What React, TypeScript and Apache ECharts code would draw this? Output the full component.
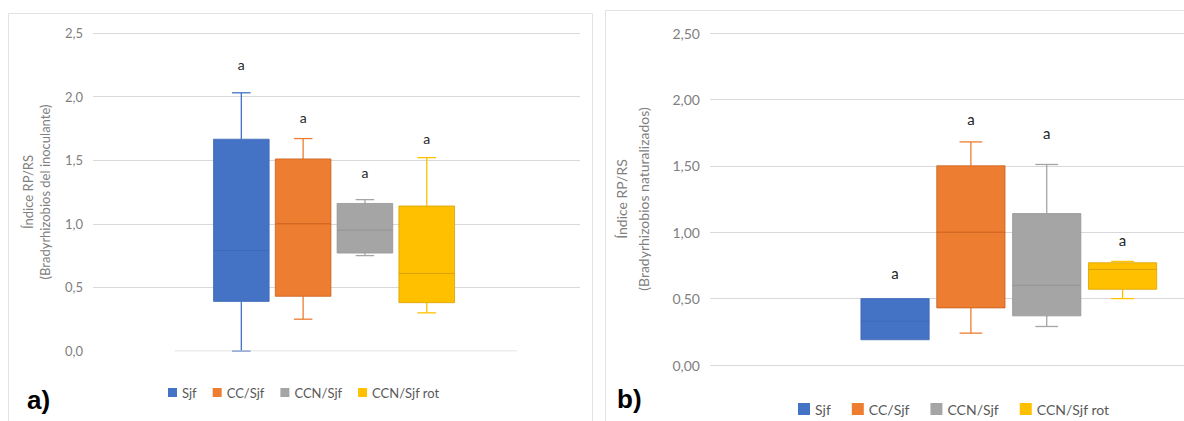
import React, { useEffect, useRef } from "react";
import * as echarts from "echarts";

// ---- data ----
const groups = ["Sjf", "CC/Sjf", "CCN/Sjf", "CCN/Sjf rot"];
const groupPos = [1, 2, 3, 4];
const colors = ["#4472C4", "#ED7D31", "#A5A5A5", "#FFC000"];
const medianColors = ["#4069b8", "#c9621e", "#949494", "#d9a100"];

// panel a) [min, Q1, median, Q3, max]
const boxA = [
  [0.0, 0.39, 0.79, 1.665, 2.03],
  [0.25, 0.43, 1.0, 1.51, 1.67],
  [0.75, 0.77, 0.95, 1.16, 1.19],
  [0.3, 0.38, 0.61, 1.14, 1.52],
];
const lettersA = ["a", "a", "a", "a"];
const letterYA = [2.25, 1.835, 1.4, 1.667];

// panel b)
const boxB = [
  [0.19, 0.19, 0.33, 0.5, 0.5],
  [0.24, 0.43, 1.0, 1.5, 1.68],
  [0.29, 0.37, 0.6, 1.14, 1.51],
  [0.5, 0.57, 0.72, 0.77, 0.78],
];
const lettersB = ["a", "a", "a", "a"];
const letterYB = [0.69, 1.855, 1.75, 0.94];

const yMin = 0;
const yMax = 2.5;
const yStep = 0.5;

const FONT = "Lato, 'Open Sans', sans-serif";

function makeRender(idx: number, letters: string[], boxFrac: number, capFrac: number, letterSize: number) {
  return (params: any, api: any) => {
    const x = api.value(0);
    const mn = api.value(1);
    const q1 = api.value(2);
    const md = api.value(3);
    const q3 = api.value(4);
    const mx = api.value(5);
    const ly = api.value(6);
    const c = (v: number) => api.coord([x, v]);
    const pMin = c(mn), pQ1 = c(q1), pMd = c(md), pQ3 = c(q3), pMax = c(mx), pL = c(ly);
    const half = api.size([boxFrac, 0])[0] / 2;
    const cap = api.size([capFrac, 0])[0] / 2;
    const cx = pMd[0];
    const col = colors[idx];
    const ws = { stroke: col, lineWidth: 1.3 };
    const children: any[] = [];
    if (pMax[1] < pQ3[1] - 0.5) {
      children.push({ type: "line", shape: { x1: cx, y1: pMax[1], x2: cx, y2: pQ3[1] }, style: ws });
      children.push({ type: "line", shape: { x1: cx - cap, y1: pMax[1], x2: cx + cap, y2: pMax[1] }, style: ws });
    }
    if (pMin[1] > pQ1[1] + 0.5) {
      children.push({ type: "line", shape: { x1: cx, y1: pQ1[1], x2: cx, y2: pMin[1] }, style: ws });
      children.push({ type: "line", shape: { x1: cx - cap, y1: pMin[1], x2: cx + cap, y2: pMin[1] }, style: ws });
    }
    children.push({
      type: "rect",
      shape: { x: cx - half, y: pQ3[1], width: half * 2, height: pQ1[1] - pQ3[1] },
      style: { fill: col, stroke: medianColors[idx], lineWidth: 0.8 },
    });
    children.push({
      type: "line",
      shape: { x1: cx - half, y1: pMd[1], x2: cx + half, y2: pMd[1] },
      style: { stroke: medianColors[idx], lineWidth: 1 },
    });
    children.push({
      type: "text",
      x: cx,
      y: pL[1],
      style: {
        text: letters[idx],
        fill: "#262626",
        fontSize: letterSize,
        fontFamily: FONT,
        align: "center",
        verticalAlign: "middle",
      },
    });
    return { type: "group", children };
  };
}

function buildSeries(box: number[][], letterY: number[], letters: string[], axisIndex: number, boxFrac: number, capFrac: number, letterSize: number) {
  return groups.map((g, i) => ({
    type: "custom",
    name: g,
    xAxisIndex: axisIndex,
    yAxisIndex: axisIndex,
    itemStyle: { color: colors[i] },
    encode: { x: 0, y: [1, 2, 3, 4, 5, 6] },
    renderItem: makeRender(i, letters, boxFrac, capFrac, letterSize),
    data: [[groupPos[i], ...box[i], letterY[i]]],
    silent: true,
  }));
}

export default function App() {
  const ref = useRef<HTMLDivElement>(null);
  useEffect(() => {
    if (!ref.current) return;
    const chart = echarts.init(ref.current, null, { renderer: "svg" });
    const yAxisBase = (decimals: number, labelSize: number) => ({
      type: "value",
      min: yMin,
      max: yMax,
      interval: yStep,
      axisLine: { show: false },
      axisTick: { show: false },
      axisLabel: {
        color: "#808080",
        fontSize: labelSize,
        fontFamily: FONT,
        margin: 10,
        formatter: (v: number) => v.toFixed(decimals).replace(".", ","),
      },
      nameLocation: "middle",
      nameRotate: 90,
    });
    const option: any = {
      animation: false,
      backgroundColor: "#ffffff",
      graphic: [
        { type: "rect", shape: { x: 8.5, y: 13.5, width: 584, height: 440 }, style: { fill: "none", stroke: "#e3e3e3", lineWidth: 1 }, silent: true },
        { type: "rect", shape: { x: 605.5, y: 10.5, width: 620, height: 440 }, style: { fill: "none", stroke: "#e3e3e3", lineWidth: 1 }, silent: true },
        { type: "text", x: 27, y: 400, style: { text: "a)", fontSize: 26, fontWeight: "bold", fontFamily: "'Liberation Sans', Arial, sans-serif", fill: "#000", verticalAlign: "middle" } },
        { type: "text", x: 617, y: 399, style: { text: "b)", fontSize: 26, fontWeight: "bold", fontFamily: "'Liberation Sans', Arial, sans-serif", fill: "#000", verticalAlign: "middle" } },
      ],
      grid: [
        { left: 93, top: 33, width: 487, height: 318 },
        { left: 710, top: 33, width: 474, height: 332 },
      ],
      xAxis: [
        { type: "value", gridIndex: 0, min: -1.4, max: 6.48, show: false },
        { type: "value", gridIndex: 1, min: -1.44, max: 4.81, show: false },
      ],
      yAxis: [
        {
          ...yAxisBase(1, 13),
          gridIndex: 0,
          splitLine: { show: true, showMinLine: false, lineStyle: { color: "#d9d9d9" } },
          name: "Índice RP/RS\n(Bradyrhizobios del inoculante)",
          nameGap: 40,
          nameTextStyle: { color: "#808080", fontSize: 13, fontFamily: FONT, lineHeight: 17 },
        },
        {
          ...yAxisBase(2, 14),
          gridIndex: 1,
          splitLine: { show: true, lineStyle: { color: "#d9d9d9" } },
          name: "Índice RP/RS\n(Bradyrhizobios naturalizados)",
          nameGap: 56,
          nameTextStyle: { color: "#808080", fontSize: 14, fontFamily: FONT, lineHeight: 22 },
        },
      ],
      legend: [
        {
          data: groups,
          left: 168,
          top: 386,
          icon: "rect",
          itemWidth: 9,
          itemHeight: 9,
          itemGap: 16,
          padding: 0,
          textStyle: { color: "#595959", fontSize: 13, fontFamily: FONT },
          selectedMode: false,
        },
        {
          data: groups,
          left: 798,
          top: 402,
          icon: "rect",
          itemWidth: 12,
          itemHeight: 12,
          itemGap: 21,
          padding: 0,
          textStyle: { color: "#595959", fontSize: 14, fontFamily: FONT },
          selectedMode: false,
        },
      ],
      series: [
        {
          type: "line",
          name: "axisA",
          xAxisIndex: 0,
          yAxisIndex: 0,
          data: [[-0.08, 0], [5.46, 0]],
          symbol: "none",
          lineStyle: { color: "#d9d9d9", width: 1 },
          silent: true,
        },
        ...buildSeries(boxA, letterYA, lettersA, 0, 0.9, 0.3, 14),
        ...buildSeries(boxB, letterYB, lettersB, 1, 0.9, 0.3, 15),
      ],
    };
    chart.setOption(option);
    return () => chart.dispose();
  }, []);
  return (
    <div
      ref={ref}
      style={{ position: "fixed", left: 0, top: 0, width: 1184, height: 421, background: "#fff" }}
    />
  );
}
